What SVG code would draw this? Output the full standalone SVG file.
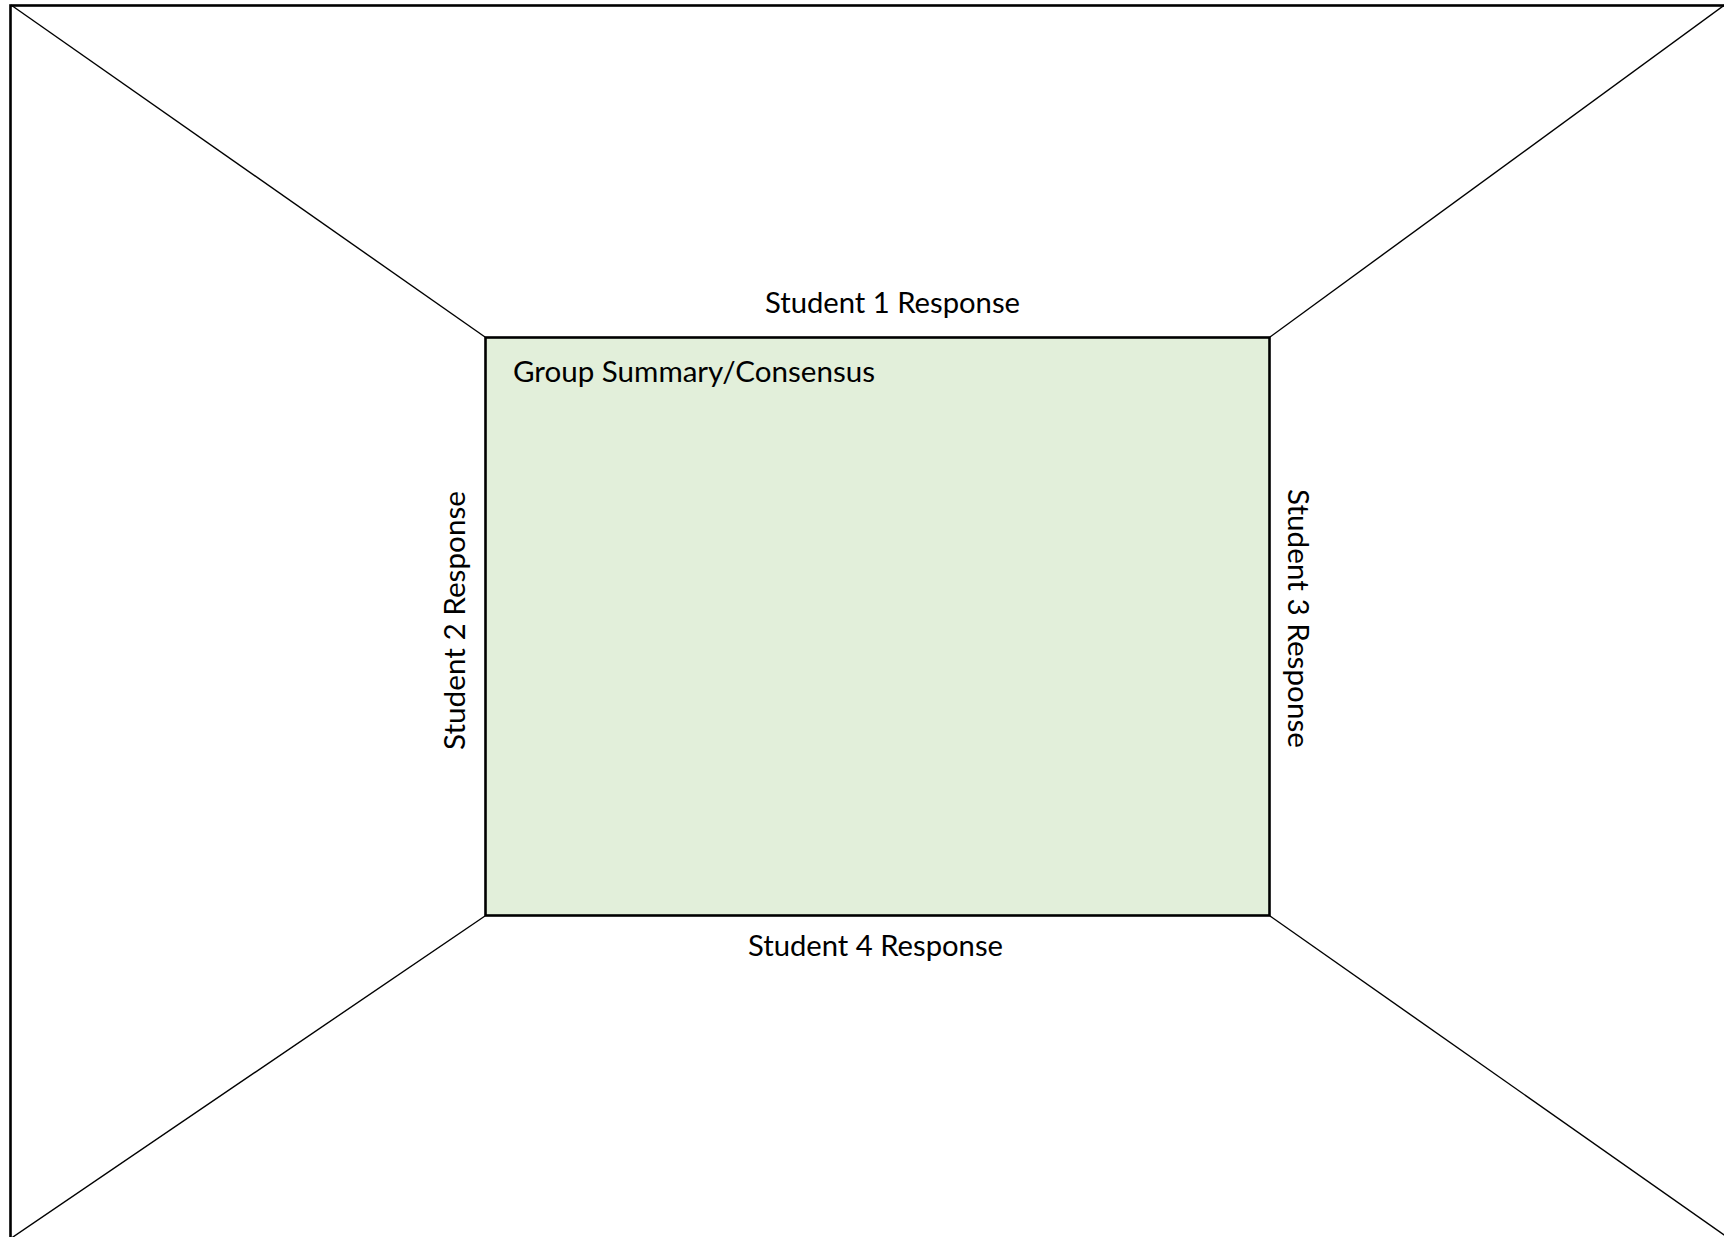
<svg xmlns="http://www.w3.org/2000/svg" width="1724" height="1237" viewBox="0 0 1724 1237">
<style>
.lbl{font-family:Lato,"Open Sans","Liberation Sans",sans-serif;font-size:28px;fill:#000}
.diag{stroke:#000;stroke-width:1.4;fill:none}
</style>
<rect x="0" y="0" width="1724" height="1237" fill="#fff"/>
<g id="frame">
<rect x="10.5" y="5.5" width="1740" height="1250" fill="none" stroke="#000" stroke-width="2.6"/>
</g>
<g id="connectors">
<line class="diag" x1="11" y1="5" x2="485" y2="337"/>
<line class="diag" x1="1726" y1="4" x2="1270" y2="337"/>
<line class="diag" x1="485" y1="916" x2="10" y2="1239"/>
<line class="diag" x1="1270" y1="916" x2="1730" y2="1239"/>
</g>
<g id="summary">
<rect x="485.5" y="337.5" width="784" height="578" fill="#E2EFDA" stroke="#000" stroke-width="2.6"/>
<text class="lbl" x="513" y="382" textLength="362" lengthAdjust="spacingAndGlyphs">Group Summary/Consensus</text>
</g>
<g id="student1">
<text class="lbl" x="765" y="313" textLength="255" lengthAdjust="spacingAndGlyphs">Student 1 Response</text>
</g>
<g id="student2">
<text class="lbl" transform="translate(465,750) rotate(-90)" x="0" y="0" textLength="259" lengthAdjust="spacingAndGlyphs">Student 2 Response</text>
</g>
<g id="student3">
<text class="lbl" transform="translate(1288,489) rotate(90)" x="0" y="0" textLength="259" lengthAdjust="spacingAndGlyphs">Student 3 Response</text>
</g>
<g id="student4">
<text class="lbl" x="748" y="956" textLength="255" lengthAdjust="spacingAndGlyphs">Student 4 Response</text>
</g>
</svg>
